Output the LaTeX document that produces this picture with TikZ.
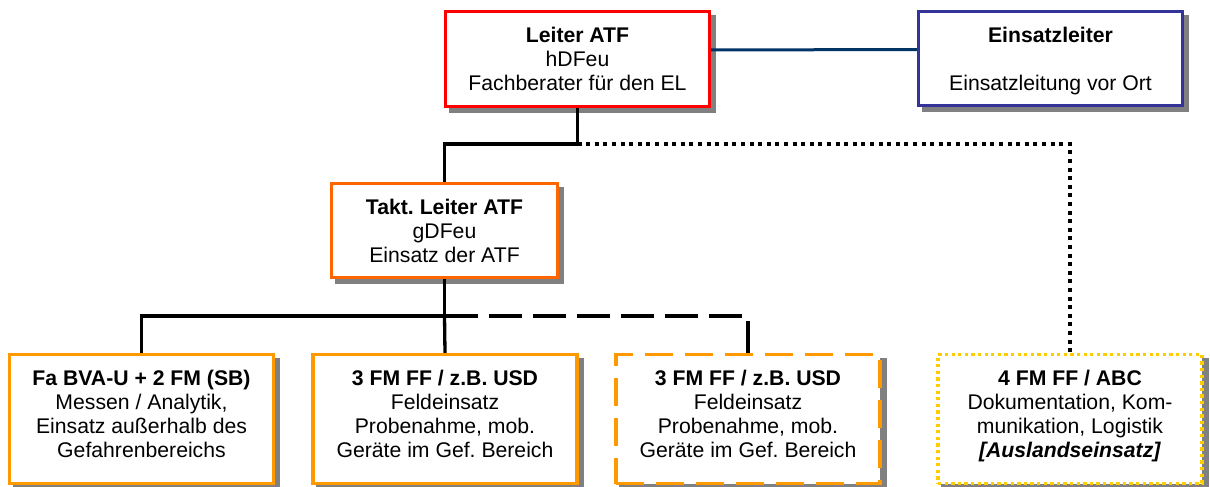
\documentclass[tikz,border=0pt]{standalone}
\usepackage{fontspec}
\setmainfont{Liberation Sans}
\usetikzlibrary{shadows}
\definecolor{atfred}{HTML}{FF0000}
\definecolor{atforange}{HTML}{FF6600}
\definecolor{teamorange}{HTML}{FF9900}
\definecolor{abcyellow}{HTML}{FFCC00}
\definecolor{elblue}{HTML}{333399}
\definecolor{linkblue}{HTML}{003366}
\definecolor{shadowgray}{HTML}{808080}
\newcommand\boxfont{\fontsize{21.2}{24}\selectfont\frenchspacing}

\begin{document}
\begin{tikzpicture}[x=1pt,y=-1pt,
  orgbox/.style={rectangle, inner sep=0pt, fill=white, line width=3.3pt,
    general shadow={solid, fill=shadowgray, draw=shadowgray, line width=3.3pt,
      shadow xshift=5pt, shadow yshift=-5pt}},
  topbox/.style={orgbox, minimum width=264pt, minimum height=95pt},
  teambox/.style={orgbox, minimum width=264pt, minimum height=129pt},
  txt/.style={anchor=north, inner sep=0pt, align=center, font=\boxfont},
  link/.style={line width=3.3pt, black},
  dashlink/.style={link, dash pattern=on 33pt off 11pt},
  dotlink/.style={link, dash pattern=on 4pt off 4.6pt},
  bluelink/.style={line width=3pt, linkblue}
]
\useasboundingbox (0,0) rectangle (1210,487);

% boxes
\node[topbox, draw=atfred] (leiter) at (577.5,59) {};
\node[topbox, draw=elblue, minimum height=94pt] (el) at (1050.5,58.5) {};
\node[orgbox, draw=atforange, minimum width=226pt, minimum height=94pt] (takt) at (444.5,230.5) {};
\node[teambox, draw=teamorange] (b1) at (141.5,419) {};
\node[teambox, draw=teamorange] (b2) at (445,419) {};
\node[teambox, draw=teamorange, dash pattern=on 28pt off 12pt] (b3) at (748,419) {};
\node[teambox, draw=abcyellow, dash pattern=on 3.3pt off 3.3pt] (b4) at (1070,419) {};

% connectors
\coordinate (j1) at (leiter.south |- 0,144);
\coordinate (j2) at (takt.south |- 0,316);
\draw[bluelink] ([yshift=9pt]leiter.east) -- ([yshift=9pt]el.west);
\draw[link] (leiter.south) -- (j1) -| (takt.north);
\draw[dotlink] (j1) -| (b4.north);
\draw[link] (takt.south) -- (j2) -| (b1.north);
\draw[link] (j2) -- (b2.north);
\draw[dashlink] (j2) -| (b3.north);

% texts
\node[txt] (leiter-t) at (577.5,25.2) {\strut\textbf{Leiter ATF}\\hDFeu\\Fachberater für den EL};
\node[txt] (el-t) at (1050.5,25.2) {\strut\textbf{Einsatzleiter}\\\strut\\Einsatzleitung vor Ort};
\node[txt] (takt-t) at (444.5,197.2) {\strut\textbf{Takt. Leiter ATF}\\gDFeu\\Einsatz der ATF};
\node[txt] (b1-t) at (141.5,368.2) {\strut\textbf{Fa BVA-U + 2 FM (SB)}\\Messen / Analytik,\\Einsatz außerhalb des\\Gefahrenbereichs};
\node[txt] (b2-t) at (445,368.2) {\strut\textbf{3 FM FF / z.B. USD}\\Feldeinsatz\\Probenahme, mob.\\Geräte im Gef. Bereich};
\node[txt] (b3-t) at (748,368.2) {\strut\textbf{3 FM FF / z.B. USD}\\Feldeinsatz\\Probenahme, mob.\\Geräte im Gef. Bereich};
\node[txt] (b4-t) at (1070,368.2) {\strut\textbf{4 FM FF / ABC}\\Dokumentation, Kom-\\munikation, Logistik\\\textbf{\textit{[Auslandseinsatz]}}};
\end{tikzpicture}
\end{document}
